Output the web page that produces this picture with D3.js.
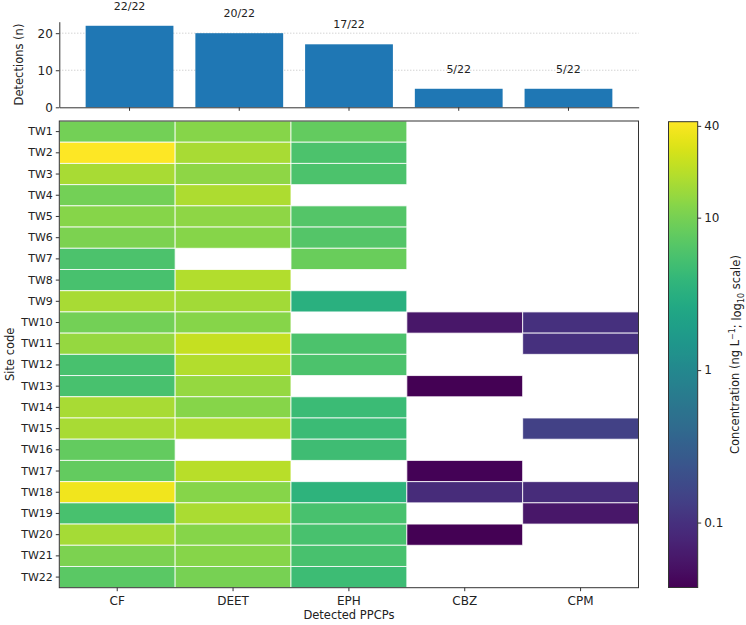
<!DOCTYPE html>
<html lang="en">
  <head>
    <meta charset="UTF-8" />
    <title>PPCP detections and concentrations</title>
    <script src="https://d3js.org/d3.v7.min.js"></script>
    <style>
      body { margin: 0; background: #fff; }
      svg text { font-family: "DejaVu Sans", sans-serif; fill: #222; }
      .axis path, .axis line { stroke: #333; }
      .axis text { font-size: 11px; }
    </style>
  </head>
  <body>
    <div id="chart"></div>
    <script>
      // Site codes and compounds
      const sites = d3.range(1, 23).map((i) => "TW" + i);
      const compounds = ["CF", "DEET", "EPH", "CBZ", "CPM"];

      // Concentrations (ng/L), one array per compound, null = not detected
      const CF = [9.5, 42.6, 17, 9.5, 12, 10.5, 5.8, 5.5, 17, 9.5, 14, 5.5, 5.5, 17, 17, 7.8, 7.8, 37, 5.5, 16.5, 10.5, 7];
      const DEET = [12, 17, 13, 18, 13, 12, null, 19, 16, 12, 23, 19, 14, 12, 18, null, 20, 12, 17.5, 12, 12, 10];
      const EPH = [7.8, 5.8, 5.8, null, 6.4, 6.4, 8.5, null, 3.3, null, 5.8, 5.8, null, 4.5, 4.5, 4.8, null, 3.5, 5.5, 5.5, 5.5, 4.7];
      const CBZ = [null, null, null, null, null, null, null, null, null, 0.057, null, null, 0.0375, null, null, null, 0.039, 0.088, null, 0.038, null, null];
      const CPM = [null, null, null, null, null, null, null, null, null, 0.099, 0.1, null, null, null, 0.145, null, null, 0.09, 0.057, null, null, null];

      const colourTicks = [0.1, 1, 10, 40];
      const countTicks = [0, 10, 20];

      const series = { CF, DEET, EPH, CBZ, CPM };
      const cells = [];
      compounds.forEach((c) => {
        series[c].forEach((v, i) => {
          if (v != null) cells.push({ compound: c, site: sites[i], value: v });
        });
      });
      const counts = compounds.map((c) => ({
        compound: c,
        n: series[c].filter((v) => v != null).length,
      }));

      const W = 746, H = 625;
      const svg = d3.select("#chart").append("svg").attr("width", W).attr("height", H);

      // --- top bar chart ---
      const bar = { left: 59.3, right: 638.7, top: 21.7, bottom: 107.3 };
      const xb = d3.scaleBand().domain(compounds).range([bar.left, bar.right])
        .paddingInner(0.2).paddingOuter(0.24);
      const yb = d3.scaleLinear().domain([0, sites.length * 1.05]).range([bar.bottom, bar.top]);

      svg.append("g").selectAll("line").data(countTicks.filter((t) => t > 0)).join("line")
        .attr("x1", bar.left).attr("x2", bar.right)
        .attr("y1", (d) => yb(d)).attr("y2", (d) => yb(d))
        .attr("stroke", "#b0b0b0").attr("stroke-width", 0.8).attr("stroke-dasharray", "1,2");

      svg.append("g").selectAll("rect").data(counts).join("rect")
        .attr("x", (d) => xb(d.compound)).attr("width", xb.bandwidth())
        .attr("y", (d) => yb(d.n)).attr("height", (d) => yb(0) - yb(d.n))
        .attr("fill", "#1f77b4");

      svg.append("g").selectAll("text").data(counts).join("text")
        .attr("x", (d) => xb(d.compound) + xb.bandwidth() / 2)
        .attr("y", (d) => yb(d.n) - 16)
        .attr("text-anchor", "middle").attr("font-size", 11)
        .text((d) => d.n + "/" + sites.length);

      svg.append("g").attr("class", "axis")
        .attr("transform", `translate(0,${bar.bottom})`)
        .call(d3.axisBottom(xb).tickSize(3.5).tickFormat("").tickSizeOuter(0));
      svg.append("g").attr("class", "axis")
        .attr("transform", `translate(${bar.left},0)`)
        .call(d3.axisLeft(yb).tickValues(countTicks).tickSize(3.5).tickSizeOuter(0))
        .call((g) => g.selectAll("text").style("font-size", "12px"));

      svg.append("text").attr("transform", `translate(19,${(bar.top + bar.bottom) / 2}) rotate(-90)`)
        .attr("text-anchor", "middle").attr("dy", "0.35em").attr("font-size", 11.5)
        .text("Detections (n)");

      // --- heatmap ---
      const hm = { left: 59.3, right: 638.5, top: 121, bottom: 587.7 };
      const x = d3.scaleBand().domain(compounds).range([hm.left, hm.right]);
      const y = d3.scaleBand().domain(sites).range([hm.top, hm.bottom]);
      const ext = d3.extent(cells, (d) => d.value);
      const logS = d3.scaleLog().domain(ext).range([0, 1]);
      const colour = (v) => d3.interpolateViridis(logS(v));

      svg.append("g").selectAll("rect").data(cells).join("rect")
        .attr("x", (d) => x(d.compound)).attr("y", (d) => y(d.site))
        .attr("width", x.bandwidth()).attr("height", y.bandwidth())
        .attr("fill", (d) => colour(d.value))
        .attr("stroke", "#fff").attr("stroke-opacity", 0.8).attr("stroke-width", 1);

      svg.append("rect").attr("x", hm.left).attr("y", hm.top)
        .attr("width", hm.right - hm.left).attr("height", hm.bottom - hm.top)
        .attr("fill", "none").attr("stroke", "#333").attr("stroke-width", 1);

      svg.append("g").attr("class", "axis")
        .attr("transform", `translate(0,${hm.bottom})`)
        .call(d3.axisBottom(x).tickSize(3.5).tickPadding(5).tickSizeOuter(0))
        .call((g) => g.select(".domain").remove())
        .call((g) => g.selectAll("text").style("font-size", "12px"));
      svg.append("g").attr("class", "axis")
        .attr("transform", `translate(${hm.left},0)`)
        .call(d3.axisLeft(y).tickSize(3.5).tickSizeOuter(0))
        .call((g) => g.select(".domain").remove());

      svg.append("text").attr("x", (hm.left + hm.right) / 2).attr("y", 619)
        .attr("text-anchor", "middle").attr("font-size", 11.5).text("Detected PPCPs");
      svg.append("text").attr("transform", `translate(10,${(hm.top + hm.bottom) / 2}) rotate(-90)`)
        .attr("text-anchor", "middle").attr("dy", "0.35em").attr("font-size", 11.5)
        .text("Site code");

      // --- colour bar ---
      const cb = { left: 668.5, right: 697.7, top: 121.7, bottom: 587.5 };
      const cy = d3.scaleLog().domain(ext).range([cb.bottom, cb.top]);
      const grad = svg.append("defs").append("linearGradient").attr("id", "vir")
        .attr("x1", 0).attr("y1", 1).attr("x2", 0).attr("y2", 0);
      d3.range(0, 1.0001, 0.02).forEach((t) => {
        grad.append("stop").attr("offset", t).attr("stop-color", d3.interpolateViridis(t));
      });
      svg.append("rect").attr("x", cb.left).attr("y", cb.top)
        .attr("width", cb.right - cb.left).attr("height", cb.bottom - cb.top)
        .attr("fill", "url(#vir)").attr("stroke", "#333").attr("stroke-width", 1);
      svg.append("g").attr("class", "axis")
        .attr("transform", `translate(${cb.right},0)`)
        .call(d3.axisRight(cy).tickValues(colourTicks).tickFormat(d3.format("~g")).tickSize(3.5).tickSizeOuter(0))
        .call((g) => g.select(".domain").remove())
        .call((g) => g.selectAll("text").style("font-size", "12px"));

      const lab = svg.append("text")
        .attr("transform", `translate(736,${(cb.top + cb.bottom) / 2}) rotate(-90)`)
        .attr("text-anchor", "middle").attr("dy", "0.3em").attr("font-size", 11.5);
      lab.append("tspan").text("Concentration (ng L");
      lab.append("tspan").attr("font-size", 8).attr("dy", "-0.5em").text("−1");
      lab.append("tspan").attr("dy", "0.5em").text("; log");
      lab.append("tspan").attr("font-size", 8).attr("dy", "0.35em").text("10");
      lab.append("tspan").attr("dy", "-0.35em").text(" scale)");
    </script>
  </body>
</html>
